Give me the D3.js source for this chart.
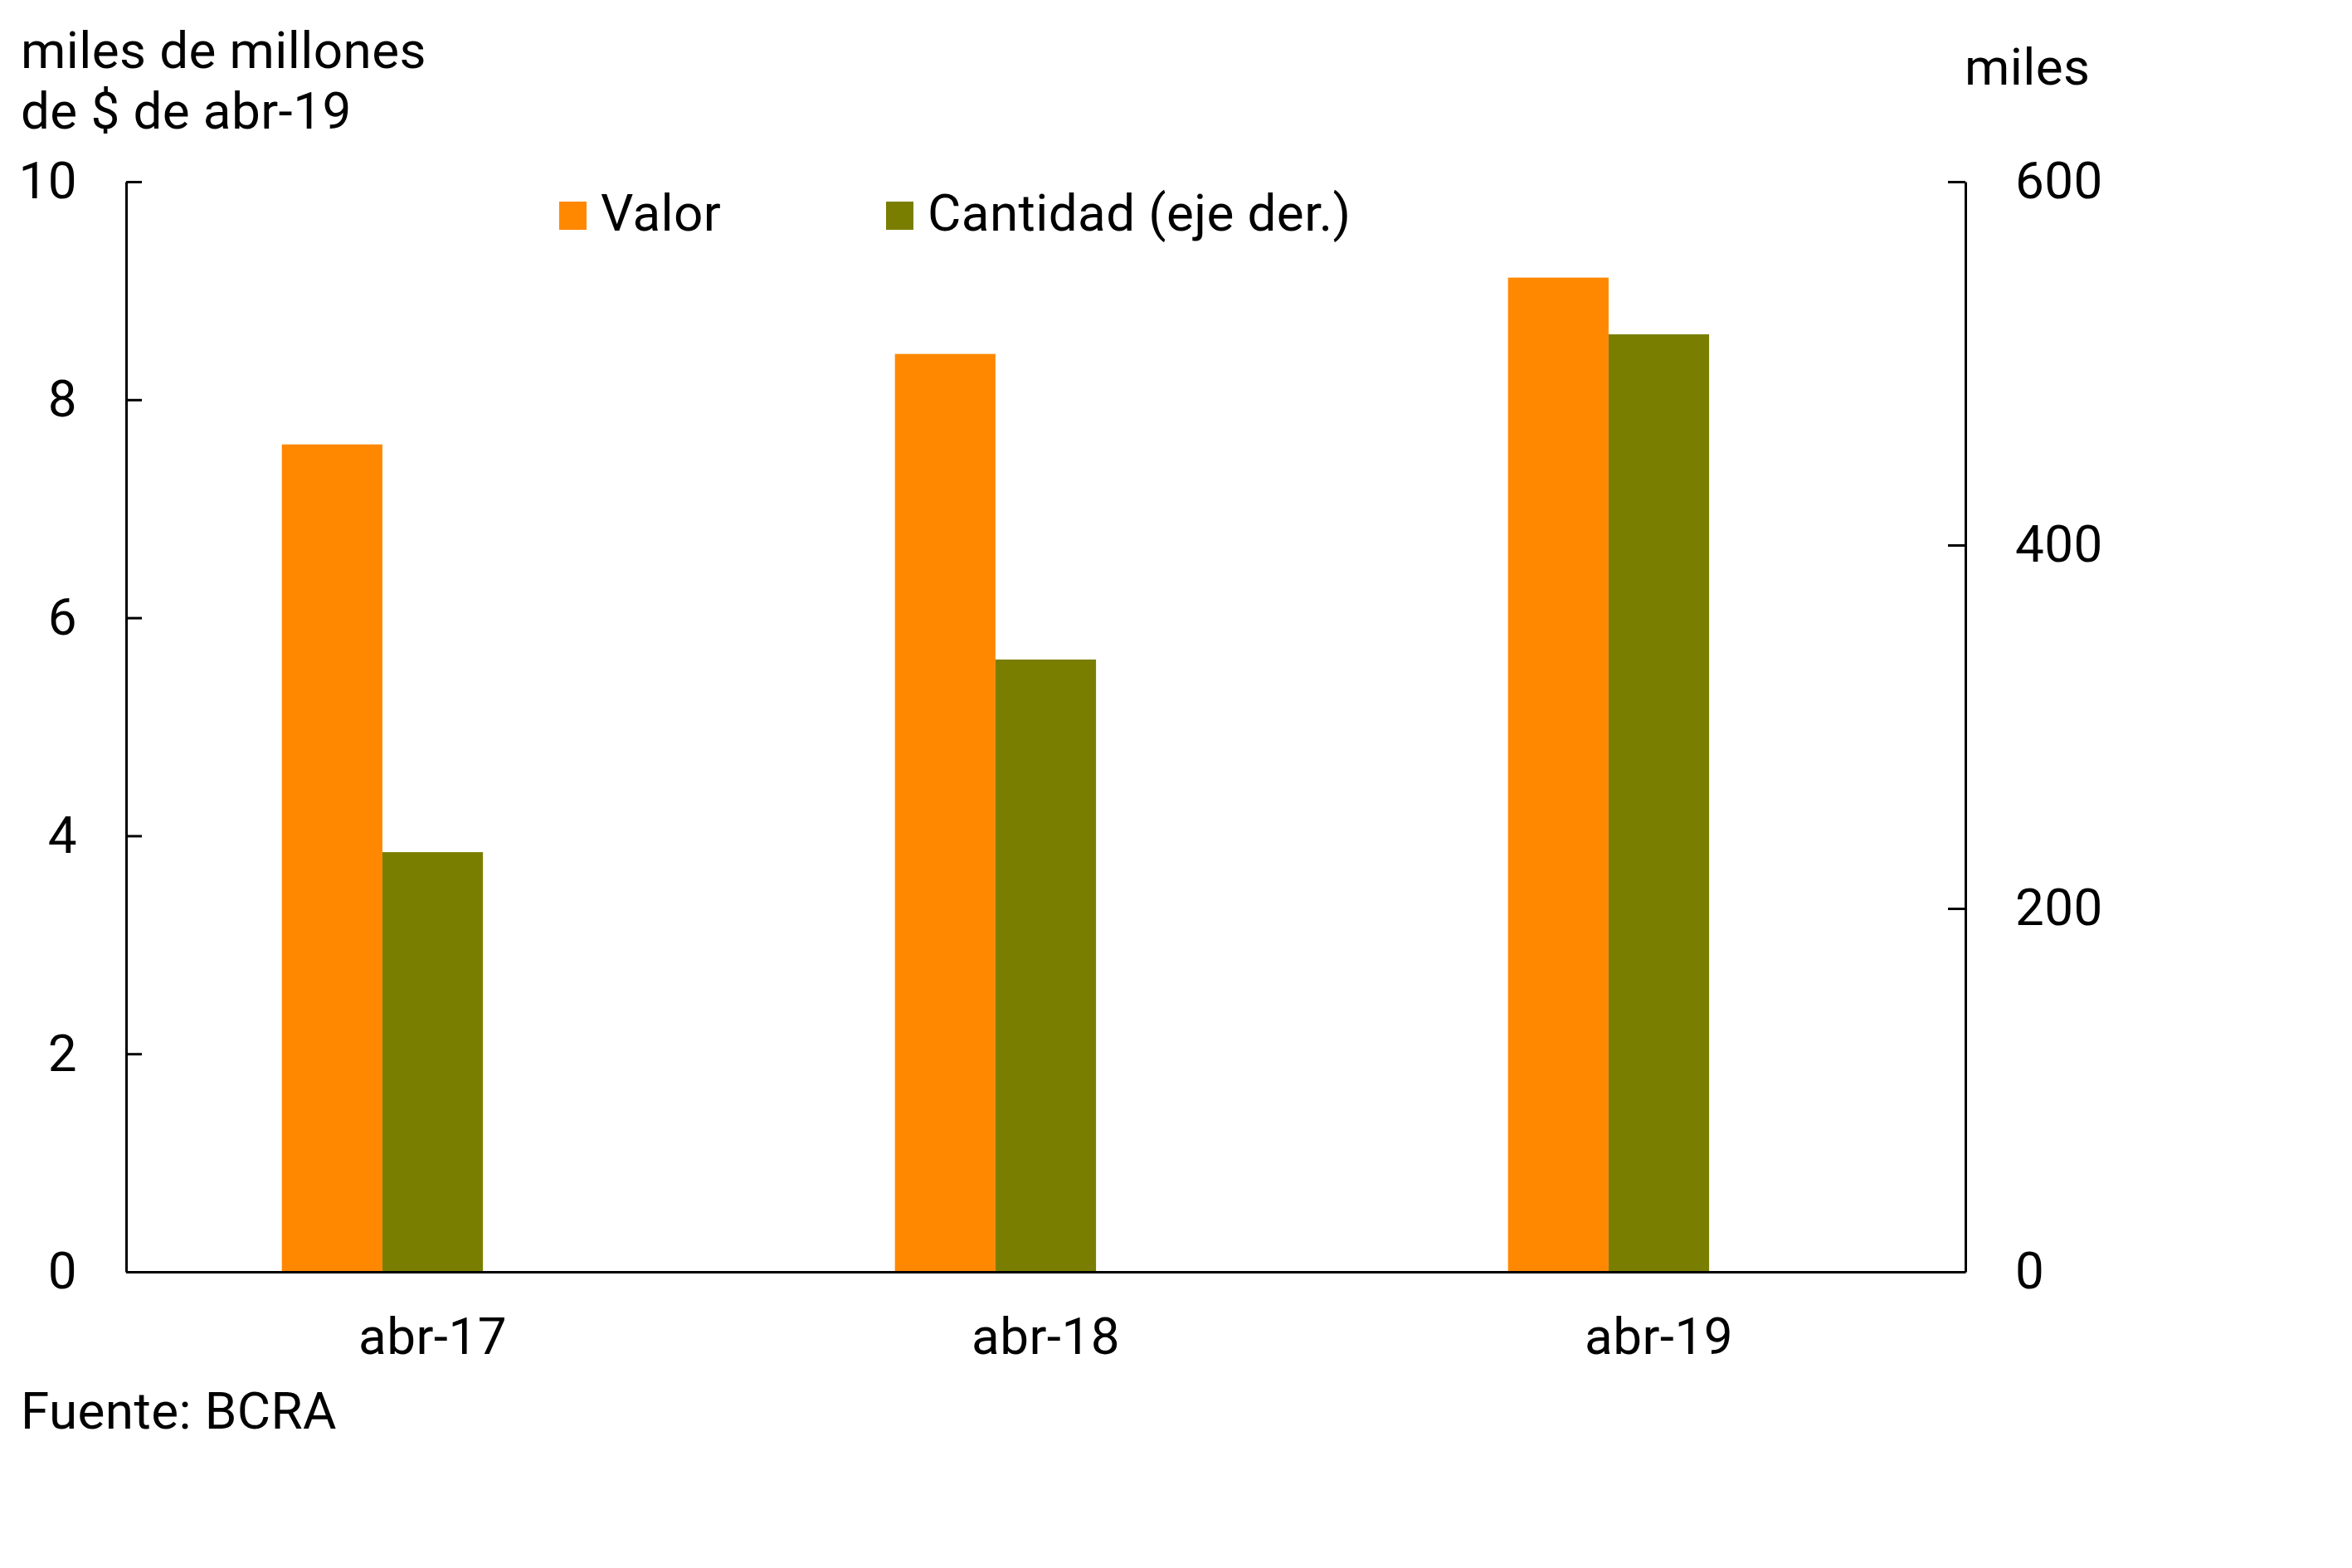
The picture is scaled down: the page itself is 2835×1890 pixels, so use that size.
<!DOCTYPE html>
<html>
<head>
<meta charset="utf-8">
<script src="https://cdn.jsdelivr.net/npm/d3@7"></script>
<style>
	body { margin: 0; background: #fff; }
	text { font-family: Roboto, "Noto Sans", sans-serif; fill: #000; letter-spacing: 0.4px; }
</style>
</head>
<body>
<div id="chart"></div>
<script>
// data
var categories = ["abr-17", "abr-18", "abr-19"]
var valor = [7.59, 8.42, 9.12]          // miles de millones de $ (left axis)
var cantidad = [231, 337, 516]          // miles (right axis)
var leftTicks = [0, 2, 4, 6, 8, 10]
var rightTicks = [0, 200, 400, 600]
var seriesNames = ["Valor", "Cantidad (eje der.)"]
var colors = ["#FF8800", "#7A7E00"]

var width = 2835
var height = 1890
var margin = {top: 219, right: 466, bottom: 357, left: 152}
var fontSize = 62

var svg = d3.select("#chart")
	.append("svg")
	.attr("width", width)
	.attr("height", height)

svg.append("rect")
	.attr("width", width)
	.attr("height", height)
	.attr("fill", "#fff")

var xScale = d3.scaleBand()
	.domain(categories)
	.range([margin.left, width - margin.right])
	.padding(0)

var yLeft = d3.scaleLinear()
	.domain([0, 10])
	.range([height - margin.bottom, margin.top])

var yRight = d3.scaleLinear()
	.domain([0, 600])
	.range([height - margin.bottom, margin.top])

var barW = xScale.bandwidth() * 0.164

// orange bars sit just left of the category centre, green ones on it
svg.selectAll(".bar-valor")
	.data(categories)
	.enter()
	.append("rect")
	.attr("class", "bar-valor")
	.attr("x", (d, i) => xScale(d) + xScale.bandwidth() / 2 - barW * 1.5)
	.attr("y", (d, i) => yLeft(valor[i]))
	.attr("width", barW)
	.attr("height", (d, i) => yLeft(0) - yLeft(valor[i]))
	.attr("fill", colors[0])

svg.selectAll(".bar-cantidad")
	.data(categories)
	.enter()
	.append("rect")
	.attr("class", "bar-cantidad")
	.attr("x", (d, i) => xScale(d) + xScale.bandwidth() / 2 - barW / 2)
	.attr("y", (d, i) => yRight(cantidad[i]))
	.attr("width", barW)
	.attr("height", (d, i) => yRight(0) - yRight(cantidad[i]))
	.attr("fill", colors[1])

// axes
var leftAxis = d3.axisLeft(yLeft)
	.tickValues(leftTicks)
	.tickSizeInner(-19)
	.tickSizeOuter(0)
	.tickPadding(59)

var rightAxis = d3.axisRight(yRight)
	.tickValues(rightTicks)
	.tickSizeInner(-21)
	.tickSizeOuter(0)
	.tickPadding(60)

var bottomAxis = d3.axisBottom(xScale)
	.tickSize(0)
	.tickPadding(55)

svg.append("g")
	.attr("transform", "translate(0," + yLeft(0) + ")")
	.call(bottomAxis)

svg.append("g")
	.attr("transform", "translate(" + margin.left + ",0)")
	.call(leftAxis)

svg.append("g")
	.attr("transform", "translate(" + (width - margin.right) + ",0)")
	.call(rightAxis)

svg.selectAll(".tick text")
	.style("font-size", fontSize + "px")
	.style("font-family", "Roboto")
svg.selectAll(".domain, .tick line")
	.attr("stroke", "#000")
	.attr("stroke-width", 3)

// titles
var leftTitle = svg.append("text")
	.attr("x", 25)
	.attr("y", 82)
	.style("font-size", fontSize + "px")
leftTitle.append("tspan").attr("x", 25).text("miles de millones")
leftTitle.append("tspan").attr("x", 25).attr("y", 155).text("de $ de abr-19")

svg.append("text")
	.attr("x", 2368)
	.attr("y", 102)
	.style("font-size", fontSize + "px")
	.text("miles")

svg.append("text")
	.attr("x", 25)
	.attr("y", 1722)
	.style("font-size", fontSize + "px")
	.text("Fuente: BCRA")

// legend
var legendX = [674, 1068]
var legend = svg.selectAll(".legend")
	.data(seriesNames)
	.enter()
	.append("g")
	.attr("class", "legend")
	.attr("transform", (d, i) => "translate(" + legendX[i] + ",243)")

legend.append("rect")
	.attr("width", 33)
	.attr("height", 34)
	.attr("fill", (d, i) => colors[i])

legend.append("text")
	.attr("x", 50)
	.attr("y", 35)
	.style("font-size", fontSize + "px")
	.text(d => d)
</script>
</body>
</html>
